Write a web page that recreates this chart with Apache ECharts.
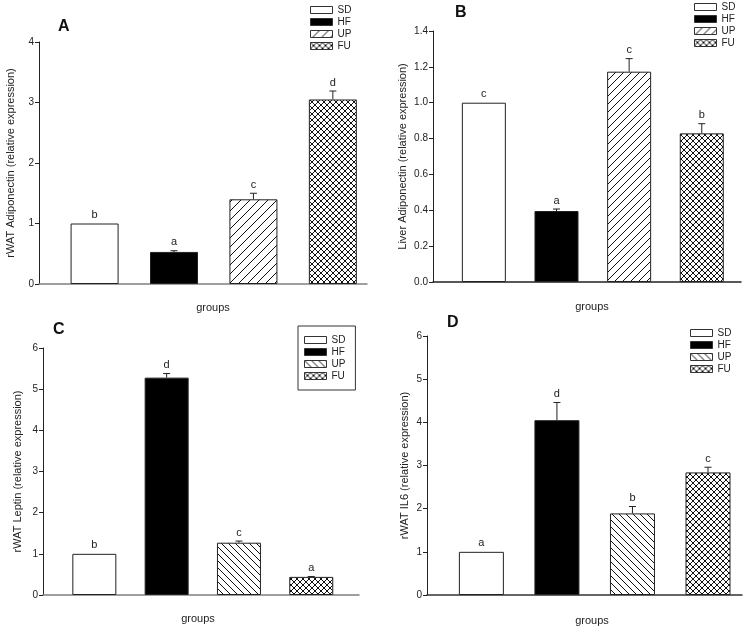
<!DOCTYPE html>
<html><head><meta charset="utf-8">
<script src="https://cdn.jsdelivr.net/npm/echarts@6/dist/echarts.min.js"></script>
<style>html,body{margin:0;padding:0;background:#fff}#c{width:748px;height:632px}</style>
</head><body><div id="c"></div>
<script>
const groups = ['SD', 'HF', 'UP', 'FU'];
const positions = [1, 2, 3, 4];

const aValues = [1.0, 0.53, 1.40, 3.05];
const aErrors = [0, 0.02, 0.10, 0.14];
const aLetters = ['b', 'a', 'c', 'd'];
const aTicks = [0, 1, 2, 3, 4];

const bValues = [1.0, 0.396, 1.173, 0.829];
const bErrors = [0, 0.011, 0.073, 0.054];
const bLetters = ['c', 'a', 'c', 'b'];
const bTicks = [0, 0.2, 0.4, 0.6, 0.8, 1.0, 1.2, 1.4];

const cValues = [1.0, 5.28, 1.27, 0.44];
const cErrors = [0, 0.10, 0.04, 0.01];
const cLetters = ['b', 'd', 'c', 'a'];
const cTicks = [0, 1, 2, 3, 4, 5, 6];

const dValues = [1.0, 4.05, 1.89, 2.84];
const dErrors = [0, 0.41, 0.16, 0.12];
const dLetters = ['a', 'd', 'b', 'c'];
const dTicks = [0, 1, 2, 3, 4, 5, 6];

const FONT = '"Liberation Sans", Arial, sans-serif';
const INK = '#222';

function makePattern(kind, s) {
  const c = document.createElement('canvas');
  c.width = s; c.height = s;
  const g = c.getContext('2d');
  g.fillStyle = '#fff'; g.fillRect(0, 0, s, s);
  g.strokeStyle = '#111'; g.lineWidth = 1;
  function fwd() { g.beginPath(); g.moveTo(-1, s + 1); g.lineTo(s + 1, -1); g.moveTo(-1, 1); g.lineTo(1, -1); g.moveTo(s - 1, s + 1); g.lineTo(s + 1, s - 1); g.stroke(); }
  function back() { g.beginPath(); g.moveTo(-1, -1); g.lineTo(s + 1, s + 1); g.moveTo(-1, s - 1); g.lineTo(1, s + 1); g.moveTo(s - 1, -1); g.lineTo(s + 1, 1); g.stroke(); }
  if (kind === 'fwd') fwd();
  else if (kind === 'back') back();
  else { fwd(); back(); }
  return { image: c, repeat: 'repeat' };
}

const panels = [
  { id: 'A', values: aValues, errors: aErrors, letters: aLetters, ticks: aTicks, up: 'fwd', upSize: 9,
    grid: { left: 39, top: 42, width: 328, height: 242 }, xmin: 0.3, xmax: 4.43, barWidth: 48,
    yName: 'rWAT Adiponectin (relative expression)', nameGap: 23, xAxisColor: '#808080', dec: 0,
    legend: { left: 308, top: 3 }, boxed: false },
  { id: 'B', values: bValues, errors: bErrors, letters: bLetters, ticks: bTicks, up: 'fwd', upSize: 8,
    grid: { left: 433, top: 31, width: 308, height: 251 }, xmin: 0.3, xmax: 4.54, barWidth: 44,
    yName: 'Liver Adiponectin (relative expression)', nameGap: 25, xAxisColor: '#222', dec: 1,
    legend: { left: 692, top: 0 }, boxed: false },
  { id: 'C', values: cValues, errors: cErrors, letters: cLetters, ticks: cTicks, up: 'back', upSize: 7,
    grid: { left: 43, top: 348, width: 316, height: 247 }, xmin: 0.29, xmax: 4.66, barWidth: 44,
    yName: 'rWAT Leptin (relative expression)', nameGap: 20, xAxisColor: '#808080', dec: 0,
    legend: { left: 298, top: 326 }, boxed: true },
  { id: 'D', values: dValues, errors: dErrors, letters: dLetters, ticks: dTicks, up: 'back', upSize: 7,
    grid: { left: 427, top: 336, width: 315, height: 259 }, xmin: 0.28, xmax: 4.45, barWidth: 45,
    yName: 'rWAT IL6 (relative expression)', nameGap: 17, xAxisColor: '#333', dec: 0,
    legend: { left: 688, top: 326 }, boxed: false }
];

const option = {
  animation: false,
  backgroundColor: '#fff',
  textStyle: { fontFamily: FONT },
  grid: [], xAxis: [], yAxis: [], series: [], legend: [], graphic: []
};

panels.forEach((p, k) => {
  option.grid.push(Object.assign({ containLabel: false }, p.grid));
  option.xAxis.push({
    type: 'value', gridIndex: k, min: p.xmin, max: p.xmax,
    axisLine: { show: true, onZero: false, lineStyle: { color: p.xAxisColor, width: 1.5 } },
    axisTick: { show: false }, axisLabel: { show: false }, splitLine: { show: false }
  });
  const tmax = p.ticks[p.ticks.length - 1];
  option.yAxis.push({
    type: 'value', gridIndex: k, min: p.ticks[0], max: tmax,
    interval: p.ticks[1] - p.ticks[0],
    name: p.yName, nameLocation: 'middle', nameGap: p.nameGap,
    nameTextStyle: { fontSize: 11, color: INK, fontFamily: FONT },
    axisLine: { show: true, lineStyle: { color: INK, width: 1 } },
    axisTick: { show: true, length: 4, lineStyle: { color: INK } },
    axisLabel: { fontSize: 10, color: INK, margin: 5, fontFamily: FONT,
      formatter: v => v.toFixed(p.dec) },
    splitLine: { show: false }
  });
  const fills = ['#ffffff', '#000000', makePattern(p.up, p.upSize), makePattern('cross', 6)];
  groups.forEach((g, i) => {
    option.series.push({
      type: 'bar', name: g + '_' + p.id, xAxisIndex: k, yAxisIndex: k,
      barWidth: p.barWidth, barGap: '-100%',
      data: [[positions[i], p.values[i]]],
      itemStyle: { color: fills[i], borderColor: '#222', borderWidth: 1 },
      emphasis: { disabled: true }
    });
  });
  option.series.push({
    type: 'custom', xAxisIndex: k, yAxisIndex: k, silent: true, z: 5,
    data: positions.map((x, i) => [x, p.values[i], p.errors[i]]),
    renderItem: (params, api) => {
      const x = api.value(0), v = api.value(1), e = api.value(2);
      const base = api.coord([x, v]);
      const top = api.coord([x, v + e]);
      const ch = [];
      if (e > 0) {
        ch.push({ type: 'line', shape: { x1: base[0], y1: base[1], x2: top[0], y2: top[1] }, style: { stroke: INK, lineWidth: 1 } });
        ch.push({ type: 'line', shape: { x1: top[0] - 3.5, y1: top[1], x2: top[0] + 3.5, y2: top[1] }, style: { stroke: INK, lineWidth: 1 } });
      }
      ch.push({ type: 'text', style: { text: p.letters[params.dataIndex], x: top[0], y: top[1] - 3,
        align: 'center', verticalAlign: 'bottom', font: '11px ' + FONT, fill: INK } });
      return { type: 'group', children: ch };
    }
  });
  const lg = {
    left: p.legend.left, top: p.legend.top, orient: 'vertical',
    data: groups.map(g => g + '_' + p.id),
    formatter: n => n.split('_')[0],
    icon: 'rect', itemWidth: 22, itemHeight: 7, itemGap: 2,
    itemStyle: { borderWidth: 1, borderColor: '#333' },
    textStyle: { fontSize: 10, color: INK, fontFamily: FONT },
    selectedMode: false
  };
  if (p.boxed) {
    lg.borderColor = '#333'; lg.borderWidth = 1; lg.padding = [9, 10, 9, 6];
  } else {
    lg.padding = [2, 2, 2, 2];
  }
  option.legend.push(lg);
});

const labels = [
  { t: 'A', x: 64, y: 28 }, { t: 'B', x: 461, y: 14 }, { t: 'C', x: 59, y: 331 }, { t: 'D', x: 453, y: 324 }
];
labels.forEach(l => option.graphic.push({ type: 'text', left: l.x - 6, top: l.y - 9,
  style: { text: l.t, font: 'bold 16px ' + FONT, fill: '#111' } }));
const gl = [{ x: 213, y: 308 }, { x: 592, y: 307 }, { x: 198, y: 619 }, { x: 592, y: 621 }];
gl.forEach(l => option.graphic.push({ type: 'text', x: l.x, y: l.y,
  style: { text: 'groups', font: '11px ' + FONT, fill: INK, textAlign: 'center', textVerticalAlign: 'middle' } }));

const chart = echarts.init(document.getElementById('c'), null, { renderer: 'canvas' });
chart.setOption(option);
</script></body></html>
